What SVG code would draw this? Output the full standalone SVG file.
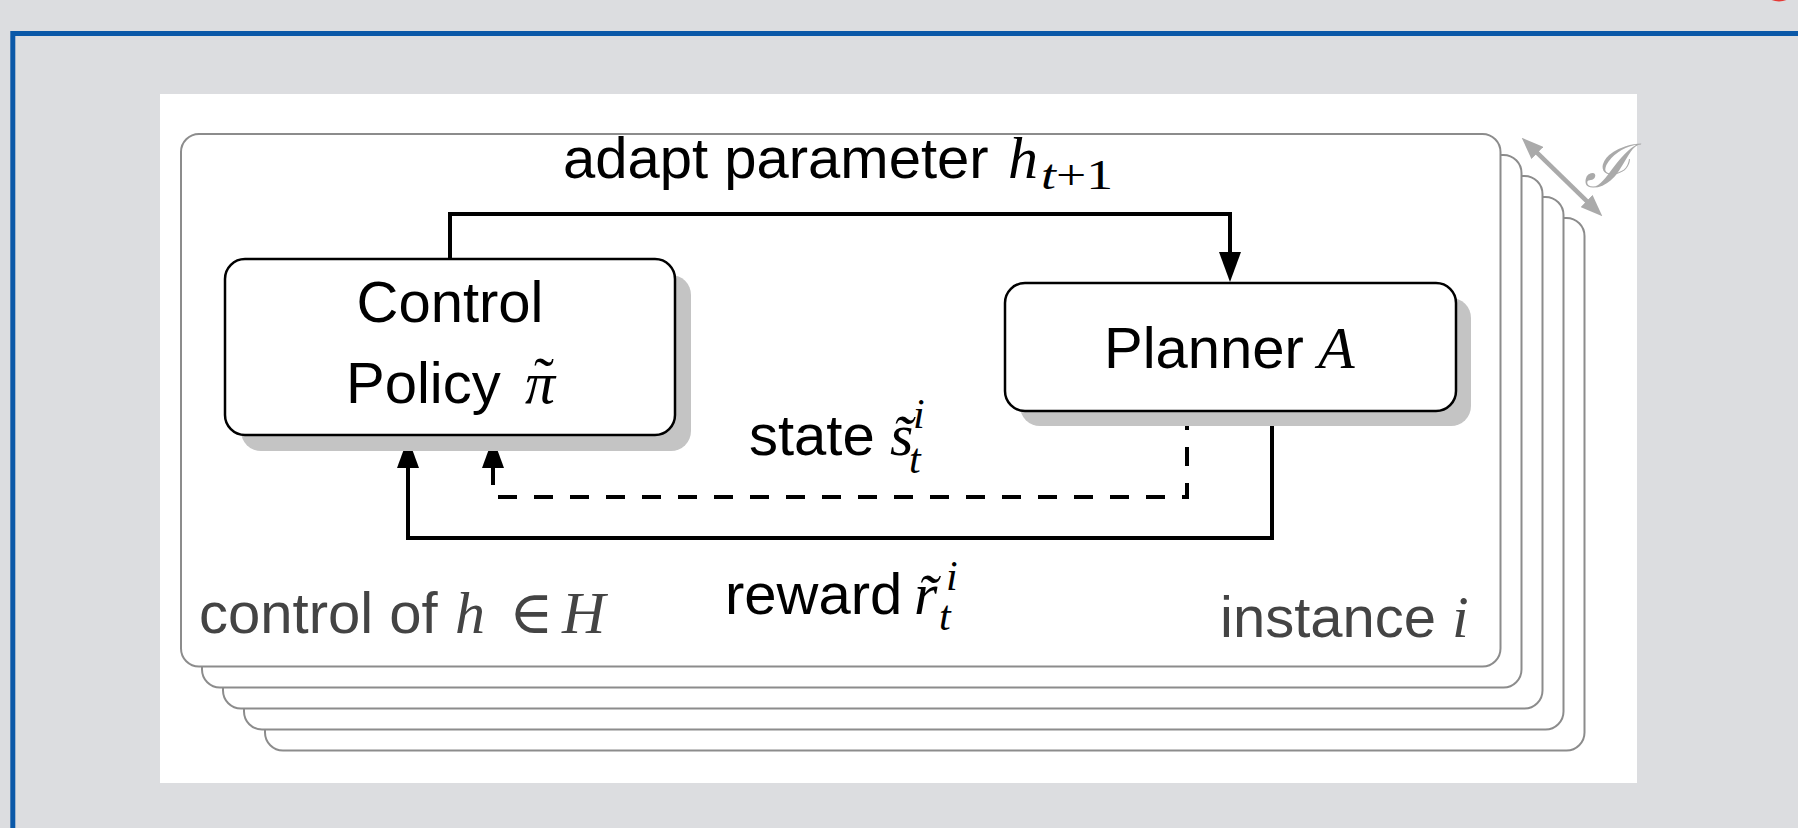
<svg xmlns="http://www.w3.org/2000/svg" width="1798" height="828" viewBox="0 0 1798 828">
<defs>
<style>
.lbl{font-family:"Liberation Sans",Arial,sans-serif;font-size:58px;fill:#000}
.gl{font-family:"Liberation Sans",Arial,sans-serif;font-size:58px;fill:#444}
.m{font-family:"Liberation Serif","Times New Roman",serif;font-style:italic;font-size:60px;fill:#000}
.mu{font-family:"Liberation Serif","DejaVu Serif",serif;font-size:60px;fill:#000}
.ms{font-family:"Liberation Serif","Times New Roman",serif;font-style:italic;font-size:42px;fill:#000}
.g{fill:#444}
.stack{fill:#fff;stroke:#8c8c8c;stroke-width:2}
.box{fill:#fff;stroke:#000;stroke-width:2.5}
.shadow{fill:#c4c4c4}
.conn{fill:none;stroke:#000;stroke-width:4}
.dash{stroke-dasharray:19 17}
</style>
<marker id="ah" markerUnits="userSpaceOnUse" markerWidth="30" markerHeight="22" viewBox="0 0 30 22" refX="1" refY="11" orient="auto">
<path d="M0,0 L30,11 L0,22 z" fill="#000"/>
</marker>
<marker id="gah" markerUnits="userSpaceOnUse" markerWidth="22" markerHeight="17" viewBox="0 0 22 17" refX="1" refY="8.5" orient="auto-start-reverse">
<path d="M0,0 L22,8.5 L0,17 z" fill="#aaa"/>
</marker>
</defs>
<rect x="0" y="0" width="1798" height="828" fill="#dcdde0"/>
<circle cx="1779" cy="-18" r="19.5" fill="#e53935"/>
<rect x="12.8" y="33.5" width="1810" height="820" fill="none" stroke="#0a58a8" stroke-width="5"/>
<rect x="160" y="94" width="1477" height="689" fill="#fff"/>

<g id="instances">
<rect class="stack" x="265" y="218" width="1319.5" height="532.5" rx="18"/>
<rect class="stack" x="244" y="197" width="1319.5" height="532.5" rx="18"/>
<rect class="stack" x="223" y="176" width="1319.5" height="532.5" rx="18"/>
<rect class="stack" x="202" y="155" width="1319.5" height="532.5" rx="18"/>
<rect class="stack" x="181" y="134" width="1319.5" height="532.5" rx="18"/>
</g>

<g id="instance-set">
<path d="M1536.7,152.3 L1587.3,201.7" stroke="#aaa" stroke-width="4.5" fill="none" marker-start="url(#gah)" marker-end="url(#gah)"/>
<text x="1584" y="187" font-family="'Liberation Serif','DejaVu Serif',serif" font-style="italic" font-size="60" fill="#aaa">ℐ</text>
</g>

<g id="connectors">
<path class="conn" d="M450,259 V214 H1230 V253" marker-end="url(#ah)"/>
<path class="conn dash" d="M1187,411 V497 H493 V467" marker-end="url(#ah)"/>
<path class="conn" d="M1272,411 V538 H408 V467" marker-end="url(#ah)"/>
</g>

<g id="control-policy">
<rect class="shadow" x="241" y="275" width="450" height="176" rx="20"/>
<rect class="box" x="225" y="259" width="450" height="176" rx="20"/>
<text class="lbl" x="450" y="322" text-anchor="middle">Control</text>
<text class="lbl" x="346" y="403">Policy</text>
<text class="m" x="525" y="403">π</text>
<text class="mu" x="544" y="398" text-anchor="middle">˜</text>
</g>

<g id="planner">
<rect class="shadow" x="1020" y="298" width="451" height="128" rx="20"/>
<rect class="box" x="1005" y="283" width="451" height="128" rx="20"/>
<text class="lbl" x="1104" y="368">Planner</text>
<text class="m" x="1318" y="368">A</text>
</g>

<g id="labels">
<text class="lbl" x="563" y="178">adapt parameter</text>
<text class="m" x="1008" y="178">h</text>
<text class="ms" x="1041" y="189" font-size="46" textLength="72" lengthAdjust="spacingAndGlyphs">t<tspan font-style="normal">+1</tspan></text>

<text class="lbl" x="749" y="455">state</text>
<text class="m" x="890" y="455">s̃</text>
<text class="ms" x="913" y="428">i</text>
<text class="ms" x="909" y="473">t</text>

<text class="lbl" x="725" y="614">reward</text>
<text class="m" x="914" y="614">r̃</text>
<text class="ms" x="946" y="590">i</text>
<text class="ms" x="939" y="630">t</text>

<text class="gl" x="199" y="633">control of</text>
<text class="m g" x="455" y="633">h</text>
<text class="mu g" x="509" y="633" font-size="56">∈</text>
<text class="m g" x="562" y="633">H</text>

<text class="gl" x="1220" y="637">instance</text>
<text class="m g" x="1452" y="637">i</text>
</g>
</svg>
